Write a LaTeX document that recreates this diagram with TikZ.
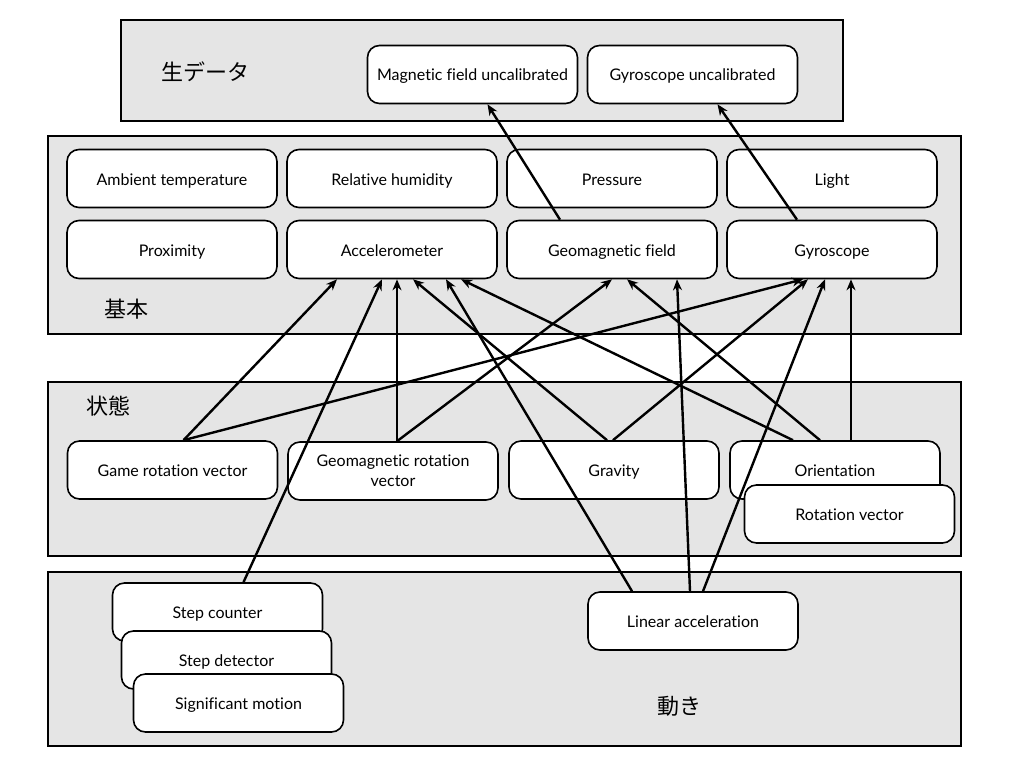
\documentclass[tikz,border=0pt]{standalone}
\usepackage{fontspec}
\setmainfont[Ligatures=NoCommon]{Lato}
\newfontfamily\jpfont{Noto Sans CJK JP}
\usetikzlibrary{arrows.meta,calc}
\definecolor{groupgray}{HTML}{E5E5E5}
\tikzset{
  group/.style={draw=black, line width=1.8pt, fill=groupgray},
  sensor/.style={draw=black, line width=1.6pt, fill=white, rounded corners=12pt,
    minimum width=210pt, minimum height=58pt, inner sep=2pt, align=center,
    text height=13.5pt, text depth=0.5pt,
    font=\fontsize{16}{20}\selectfont},
  twoline/.style={text height={}, text depth={}, yshift=-1pt},
  grouplabel/.style={font=\jpfont\fontsize{22}{24}\selectfont, inner sep=0pt},
  dep/.style={line width=2.4pt, -{Stealth[length=11pt,width=9pt,inset=3.5pt]}}
}
\begin{document}
\begin{tikzpicture}[x=1pt,y=-1pt]
\useasboundingbox (0,0) rectangle (1024,768);
% groups
\draw[group] (121,20) rectangle (843,121);
\draw[group] (48,136) rectangle (961,334);
\draw[group] (48,382) rectangle (961,556);
\draw[group] (48,572) rectangle (961,746);
\node[grouplabel] (graw) at (205,72) {生データ};
\node[grouplabel] (gbasic) at (126,309) {基本};
\node[grouplabel] (gstate) at (108,406) {状態};
\node[grouplabel] (gmotion) at (679,706) {動き};
% raw
\node[sensor] (magu) at (472.5,74.5) {Magnetic field uncalibrated};
\node[sensor] (gyru) at (692.5,74.5) {Gyroscope uncalibrated};
% basic
\node[sensor] (amb) at (172,178.5) {Ambient temperature};
\node[sensor] (hum) at (392,178.5) {Relative humidity};
\node[sensor] (pre) at (612,178.5) {Pressure};
\node[sensor] (lig) at (832,178.5) {Light};
\node[sensor] (pro) at (172,249.5) {Proximity};
\node[sensor] (acc) at (392,249.5) {Accelerometer};
\node[sensor] (geo) at (612,249.5) {Geomagnetic field};
\node[sensor] (gyr) at (832,249.5) {Gyroscope};
% state
\node[sensor] (grv) at (172.5,470) {Game rotation vector};
\node[sensor, twoline] (gmr) at (393,470) {Geomagnetic rotation\\vector};
\node[sensor] (gra) at (614,470) {Gravity};
\node[sensor] (ori) at (835,470) {Orientation};
\node[sensor] (rot) at (849.5,514) {Rotation vector};
% motion
\node[sensor] (stc) at (217.5,612) {Step counter};
\node[sensor] (std) at (226.5,660) {Step detector};
\node[sensor] (sig) at (238.5,703) {Significant motion};
\node[sensor] (lin) at (693,621) {Linear acceleration};
% connectors
\draw[dep] ($(geo.north)+(-52,0)$) -- ($(magu.south)+(15,0)$);
\draw[dep] ($(gyr.north)+(-35,0)$) -- ($(gyru.south)+(25,0)$);
\draw[dep] ($(grv.north)+(11,0)$) -- ($(acc.south)+(-55,0)$);
\draw[dep] ($(grv.north)+(11,0)$) -- ($(gyr.south)+(-29,0)$);
\draw[dep] ($(stc.north)+(26,0)$) -- ($(acc.south)+(-10,0)$);
\draw[dep] ($(gmr.north)+(4,0)$) -- ($(acc.south)+(5,0)$);
\draw[dep] ($(gmr.north)+(4,0)$) -- ($(geo.south)+(0,0)$);
\draw[dep] ($(gra.north)+(-7,0)$) -- ($(acc.south)+(21,0)$);
\draw[dep] ($(gra.north)+(-1,0)$) -- ($(gyr.south)+(-24,0)$);
\draw[dep] ($(ori.north)+(-42,0)$) -- ($(acc.south)+(69,0)$);
\draw[dep] ($(ori.north)+(-15,0)$) -- ($(geo.south)+(15,0)$);
\draw[dep] ($(ori.north)+(16,0)$) -- ($(gyr.south)+(19,0)$);
\draw[dep] ($(lin.north)+(-61,0)$) -- ($(acc.south)+(54,0)$);
\draw[dep] ($(lin.north)+(-3,0)$) -- ($(geo.south)+(65,0)$);
\draw[dep] ($(lin.north)+(10,0)$) -- ($(gyr.south)+(-7,0)$);
\end{tikzpicture}
\end{document}
